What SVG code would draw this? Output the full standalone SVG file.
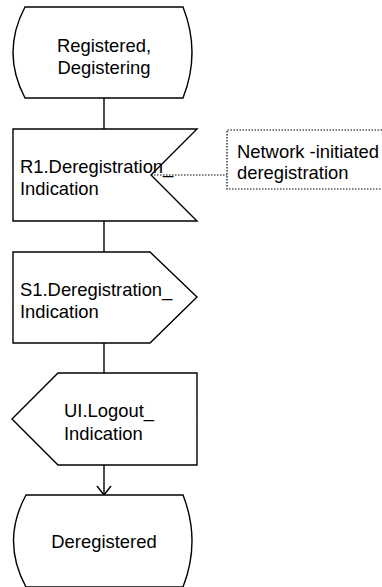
<svg xmlns="http://www.w3.org/2000/svg" width="382" height="587" viewBox="0 0 382 587">
<style>
  .shape { fill: #fff; stroke: #000; stroke-width: 1.4; }
  .conn { fill: none; stroke: #000; stroke-width: 1.4; }
  .dot { fill: none; stroke: #000; stroke-width: 1.2; stroke-dasharray: 1.5 1.5; }
  text { font-family: "Liberation Sans", Arial, sans-serif; font-size: 18.4px; fill: #000; }
  .c { text-anchor: middle; }
</style>
<rect width="382" height="587" fill="#fff"/>
<g id="connectors">
  <line class="conn" x1="104" y1="98" x2="104" y2="129"/>
  <line class="conn" x1="104" y1="221" x2="104" y2="252"/>
  <line class="conn" x1="104" y1="343" x2="104" y2="373"/>
  <line class="conn" x1="104" y1="465" x2="104" y2="495"/>
  <polyline class="conn" points="97,486 104,495 111,486"/>
  <line class="dot" x1="151" y1="175" x2="227" y2="175"/>
</g>
<g id="state-registered">
  <path class="shape" d="M25,7 H183 Q201,52.5 183,98 H25 Q1,52.5 25,7 Z"/>
  <text class="c" x="104" y="52">Registered,</text>
  <text class="c" x="104" y="74">Degistering</text>
</g>
<g id="input-r1">
  <polygon class="shape" points="13,129 197,129 151,175 197,221 13,221"/>
  <text x="20" y="173">R1.Deregistration_</text>
  <text x="20" y="195">Indication</text>
</g>
<g id="comment">
  <path class="dot" d="M382,130 H227 V189 H382"/>
  <text x="237" y="158">Network -initiated</text>
  <text x="237" y="179">deregistration</text>
</g>
<g id="output-s1">
  <polygon class="shape" points="13,252 150,252 197,297 150,343 13,343"/>
  <text x="20" y="296">S1.Deregistration_</text>
  <text x="20" y="318">Indication</text>
</g>
<g id="output-ui">
  <polygon class="shape" points="58,373 197,373 197,465 58,465 12,419"/>
  <text x="64" y="417">UI.Logout_</text>
  <text x="64" y="440">Indication</text>
</g>
<g id="state-deregistered">
  <path class="shape" d="M26,495 H183 Q201,541 183,587 H26 Q1,541 26,495 Z"/>
  <text class="c" x="104" y="548">Deregistered</text>
</g>
</svg>
